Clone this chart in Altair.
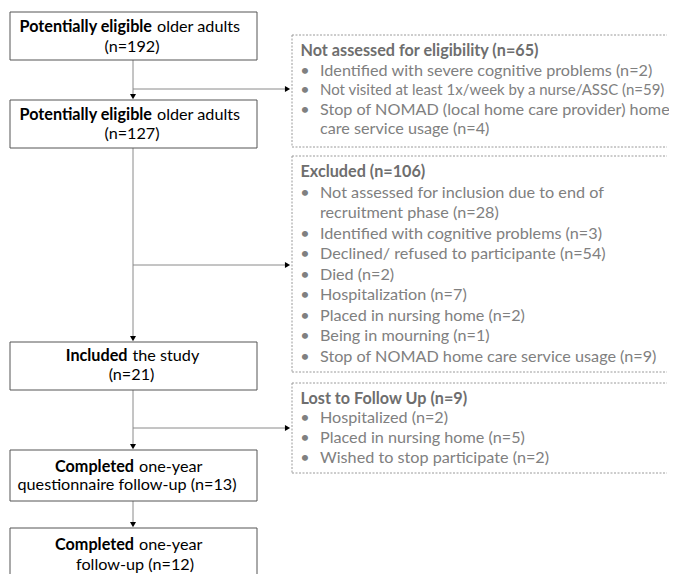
import altair as alt
import pandas as pd

# ---------------- content ----------------
main_bold = ["Potentially eligible", "Potentially eligible", "Included", "Completed", "Completed"]
main_rest = ["older adults", "older adults", "the study", "one-year", "one-year"]
main_line2 = ["(n=192)", "(n=127)", "(n=21)", "questionnaire follow-up (n=13)", "follow-up (n=12)"]

side_titles = ["Not assessed for eligibility (n=65)", "Excluded (n=106)", "Lost to Follow Up (n=9)"]
side_items = [
    [["Identified with severe cognitive problems (n=2)"],
     ["Not visited at least 1x/week by a nurse/ASSC (n=59)"],
     ["Stop of NOMAD (local home care provider) home", "care service usage (n=4)"]],
    [["Not assessed for inclusion due to end of", "recruitment phase (n=28)"],
     ["Identified with cognitive problems (n=3)"],
     ["Declined/ refused to participante (n=54)"],
     ["Died (n=2)"],
     ["Hospitalization (n=7)"],
     ["Placed in nursing home (n=2)"],
     ["Being in mourning (n=1)"],
     ["Stop of NOMAD home care service usage (n=9)"]],
    [["Hospitalized (n=2)"],
     ["Placed in nursing home (n=5)"],
     ["Wished to stop participate (n=2)"]],
]

# ---------------- layout (diagram geometry, pixels) ----------------
main_x = [10, 257]
main_cx = 133
main_top = [12, 100, 342, 450, 528]
main_bottom = [60, 148, 390, 501, 590]
main_line1_y = [27, 115, 356, 467, 545]
main_line2_y = [47, 134, 375, 485, 565]
main_split = [154.5, 154.5, 130, 136.5, 136.5]
main_line2_cx = [132, 132, 131.5, 127, 135]

side_left = 292
side_right = 667          # boxes run on to the right edge of the picture
side_top = [35, 156, 383]
side_bottom = [147, 372, 473]
side_title_y = [51, 172, 398.5]
side_step = [19.6, 20.5, 19.8]
branch_y = [89, 265, 428]
long_line_size = {(0, 1): 15.0}   # longest bullet line set a bit smaller so it fits

FONT = "Lato"
FS = 16.2

xs = alt.Scale(domain=[8, 669], nice=False, zero=False)
ys = alt.Scale(domain=[8, 574], nice=False, zero=False, reverse=True)


def X(f):
    return alt.X(f, type="quantitative", scale=xs, axis=None)


def Y(f):
    return alt.Y(f, type="quantitative", scale=ys, axis=None)


main_boxes = pd.DataFrame({
    "x": [main_x[0]] * 5, "x2": [main_x[1]] * 5,
    "y": main_top, "y2": main_bottom,
})
edges = []
for t, b in zip(side_top, side_bottom):
    edges.append({"x": side_left, "x2": side_right, "y": t, "y2": t})
    edges.append({"x": side_left, "x2": side_right, "y": b, "y2": b})
    edges.append({"x": side_left, "x2": side_left, "y": t, "y2": b})
edges = pd.DataFrame(edges)

AH = 3.46  # arrowhead centre offset from its tip
segs = []
down_heads = []
for i in range(4):
    segs.append({"x": main_cx, "x2": main_cx, "y": main_bottom[i], "y2": main_top[i + 1] - 4})
    down_heads.append({"x": main_cx, "y": main_top[i + 1] - AH})
right_heads = []
for j, by in enumerate(branch_y):
    segs.append({"x": main_cx, "x2": side_left - 5, "y": by, "y2": by})
    right_heads.append({"x": side_left - 1 - AH, "y": by})
segs = pd.DataFrame(segs)
down_heads = pd.DataFrame(down_heads)
right_heads = pd.DataFrame(right_heads)

bold_df = pd.DataFrame({"x": [s - 2.5 for s in main_split], "y": main_line1_y, "t": main_bold})
rest_df = pd.DataFrame({"x": [s + 2.5 for s in main_split], "y": main_line1_y, "t": main_rest})
line2_df = pd.DataFrame({"x": main_line2_cx, "y": main_line2_y, "t": main_line2})

title_df = pd.DataFrame({"x": [300.5] * 3, "y": side_title_y, "t": side_titles})
bul_rows, item_rows = [], []
for b, items in enumerate(side_items):
    k = 1
    for ii, item in enumerate(items):
        for li, line in enumerate(item):
            yy = side_title_y[b] + k * side_step[b]
            if li == 0:
                bul_rows.append({"x": 305, "y": yy, "t": "•"})
            item_rows.append({"x": 320, "y": yy, "t": line,
                              "s": long_line_size.get((b, ii), FS)})
            k += 1
bul_df = pd.DataFrame(bul_rows)
item_df = pd.DataFrame(item_rows)

l_main = alt.Chart(main_boxes).mark_rect(fill="white", stroke="#555555", strokeWidth=1).encode(
    x=X("x"), x2="x2", y=Y("y"), y2="y2")
l_side = alt.Chart(edges).mark_rule(color="#9a9a9a", strokeWidth=1, strokeDash=[2, 1.5]).encode(
    x=X("x"), x2="x2", y=Y("y"), y2="y2")
l_segs = alt.Chart(segs).mark_rule(color="#8a8a8a", strokeWidth=1).encode(
    x=X("x"), x2="x2", y=Y("y"), y2="y2")
l_dh = alt.Chart(down_heads).mark_point(shape="triangle-down", filled=True, color="#000000",
                                        size=36, opacity=1).encode(x=X("x"), y=Y("y"))
l_rh = alt.Chart(right_heads).mark_point(shape="triangle-right", filled=True, color="#000000",
                                         size=36, opacity=1).encode(x=X("x"), y=Y("y"))

l_bold = alt.Chart(bold_df).mark_text(align="right", baseline="middle", font=FONT, fontSize=FS,
                                      fontWeight="bold", color="#000000").encode(
    x=X("x"), y=Y("y"), text="t:N")
l_rest = alt.Chart(rest_df).mark_text(align="left", baseline="middle", font=FONT, fontSize=FS,
                                      color="#000000").encode(
    x=X("x"), y=Y("y"), text="t:N")
l_line2 = alt.Chart(line2_df).mark_text(align="center", baseline="middle", font=FONT, fontSize=FS,
                                        color="#000000").encode(
    x=X("x"), y=Y("y"), text="t:N")
l_title = alt.Chart(title_df).mark_text(align="left", baseline="middle", font=FONT, fontSize=FS,
                                        fontWeight="bold", color="#6e6e6e").encode(
    x=X("x"), y=Y("y"), text="t:N")
l_bul = alt.Chart(bul_df).mark_text(align="center", baseline="middle", font=FONT, fontSize=FS,
                                    color="#808080").encode(
    x=X("x"), y=Y("y"), text="t:N")
l_item = alt.Chart(item_df).mark_text(align="left", baseline="middle", font=FONT,
                                      color="#808080").encode(
    x=X("x"), y=Y("y"), text="t:N",
    size=alt.Size("s:Q", scale=None, legend=None))

chart = alt.layer(
    l_segs, l_main, l_side, l_dh, l_rh, l_bold, l_rest, l_line2, l_title, l_bul, l_item
).properties(
    width=661, height=566, padding=0, autosize=alt.AutoSizeParams(type="none")
).configure_view(stroke=None)

chart.save("out.html", embed_options={"renderer": "svg", "actions": False})
